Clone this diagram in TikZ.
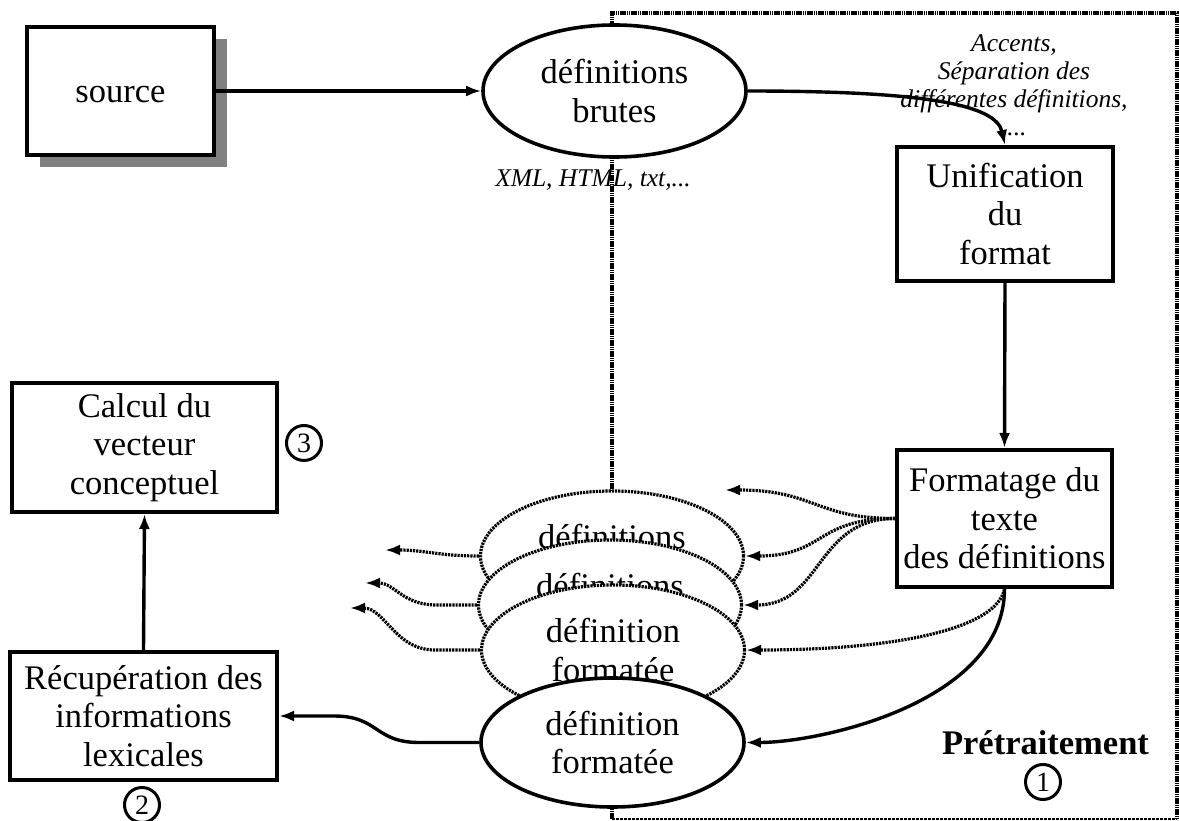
\documentclass[tikz,border=0pt]{standalone}
\usepackage{fontspec}
\setmainfont{Liberation Serif}
\usetikzlibrary{arrows.meta,shapes.geometric,calc,shadows}

\begin{document}
\begin{tikzpicture}[x=1pt,y=-1pt,
  every node/.style={inner sep=0pt, align=center, font=\fontsize{34.5}{38.5}\selectfont},
  box/.style={draw, rectangle, line width=4pt, fill=white},
  oval/.style={draw, ellipse, line width=3.6pt, fill=white, minimum width=263pt, minimum height=130pt},
  dotoval/.style={oval, line width=3.2pt, dash pattern=on 2.2pt off 1pt},
  flow/.style={line width=3.4pt, -{Latex[length=15pt,width=11pt]}},
  dotflow/.style={flow, line width=3.2pt, dash pattern=on 2.2pt off 1pt},
  note/.style={font=\fontsize{25.5}{28}\selectfont\itshape},
  num/.style={draw, circle, line width=3pt, minimum size=35pt, font=\fontsize{28}{28}\selectfont},
  framedot/.style={line width=3.2pt, dash pattern=on 1.6pt off 0.6pt},
  framedash/.style={line width=1.4pt, dash pattern=on 3pt off 1pt},
]
\useasboundingbox (0,0) rectangle (1179,821);

% preprocessing frame
\draw[framedot] (612,819) -- (612,13) -- (1177,13) -- (1177,819);
\draw[framedash] (612,819) -- (1177,819);

% source and raw definitions
\node[box, minimum width=187pt, minimum height=128pt, text height=30.7pt, text depth=7.5pt,
      drop shadow={shadow xshift=12.5pt, shadow yshift=-12.5pt, fill=black!50, opacity=1}]
      (src) at (120.5,91) {source};
\node[oval, minimum height=132pt] (raw) at (614.5,91) {définitions\\brutes};
\node[note] (fmt) at (593,180.5) {XML, HTML, txt,...};
\node[note] (acc) at (1014,85.5) {Accents,\\Séparation des\\différentes définitions,\\\hspace*{6pt}...};

% processing boxes
\node[box, minimum width=216pt, minimum height=134pt] (uni) at (1005,214) {Unification\\du\\format};
\node[box, minimum width=215pt, minimum height=137pt] (form) at (1004.5,518.5) {Formatage du\\texte\\des définitions};
\node[box, minimum width=265pt, minimum height=129pt] (calc) at (144.5,447.5) {Calcul du\\vecteur\\conceptuel};
\node[box, minimum width=267pt, minimum height=128pt] (rec) at (143.5,716) {Récupération des\\informations\\lexicales};

% stack of formatted definitions
\node[dotoval] (d1) at (612,556) {};
\node (d1t) at ($(d1.center)+(0,-19.5)$) {définitions};
\node[dotoval] (d2) at (610,605) {};
\node (d2t) at ($(d2.center)+(0,-19.5)$) {définitions};
\node[dotoval] (d3) at (613,650) {définition\\formatée};
\node[oval, minimum height=129pt] (sol) at (612.5,742.5) {définition\\formatée};

% labels
\node[font=\fontsize{34.5}{38.5}\selectfont\bfseries] (pre) at (1045.5,743) {Prétraitement};
\node[num] (n1) at (1043,782) {1};
\node[num] (n2) at (142,805) {2};
\node[num] (n3) at (304,443) {3};

% solid connectors
\draw[flow] (src.east) -- (raw.west);
\draw[flow] (raw.east) .. controls +(180,0) and +(-9,-40) .. (uni.north);
\draw[flow] (uni.south) -- (form.north);
\draw[flow] (form.south) .. controls +(0,113) and +(75,0) .. (sol.east);
\draw[flow] (sol.west) -- ++(-60,0) .. controls +(-45,0) and +(45,0) .. ($(rec.east)+(55,0)$) -- (rec.east);
\draw[flow] (rec.north) -- (calc.south);

% dotted connectors
\coordinate (t1) at (725,490);
\coordinate (l1) at (385,550);
\coordinate (l2) at (365,583);
\coordinate (l3) at (350,608);
\draw[dotflow] (form.west) .. controls +(-80,0) and +(90,0) .. (t1);
\draw[dotflow] (form.west) .. controls +(-80,0) and +(80,0) .. (d1.east);
\draw[dotflow] (form.west) .. controls +(-80,0) and +(80,0) .. (d2.east);
\draw[dotflow] (form.south) .. controls +(-8,40) and +(150,0) .. (d3.east);
\draw[dotflow] (d1.west) .. controls +(-40,0) and +(40,0) .. (l1);
\draw[dotflow] (d2.west) -- ++(-40,0) .. controls +(-35,0) and +(30,0) .. (l2);
\draw[dotflow] (d3.west) -- ++(-45,0) .. controls +(-40,0) and +(35,0) .. (l3);
\end{tikzpicture}
\end{document}
